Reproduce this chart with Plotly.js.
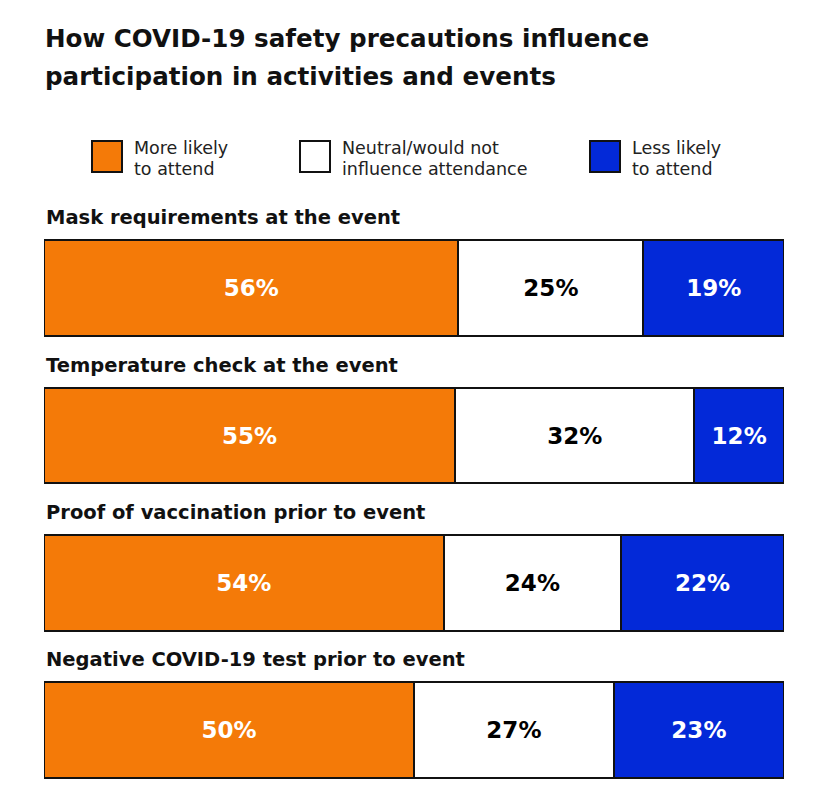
<!DOCTYPE html>
<html>
<head>
<meta charset="utf-8">
<script src="https://cdn.plot.ly/plotly-3.0.1.min.js"></script>
<style>html,body{margin:0;padding:0;background:#fff;}#chart{width:830px;height:810px;}</style>
</head>
<body>
<div id="chart"></div>
<script>
// ---- data ----
const categories = [
  "Mask requirements at the event",
  "Temperature check at the event",
  "Proof of vaccination prior to event",
  "Negative COVID-19 test prior to event"
];
const seriesNames = [["More likely", "to attend"], ["Neutral/would not", "influence attendance"], ["Less likely", "to attend"]];
const moreLikely = [56, 55, 54, 50];
const neutral = [25, 32, 24, 27];
const lessLikely = [19, 12, 22, 23];
const titleLines = ["How COVID-19 safety precautions influence", "participation in activities and events"];

// ---- styling ----
const colors = ["#F47A08", "#FFFFFF", "#0329D8"];
const textColors = ["#FFFFFF", "#000000", "#FFFFFF"];
const FONT = "DejaVu Sans, sans-serif";
const W = 830, Hh = 810;
const mL = 44, mR = 46, mT = 200, mB = 21;
const plotH = Hh - mT - mB, plotW = W - mL - mR;
const px = x => (x - mL) / plotW;
const py = y => (Hh - mB - y) / plotH;

const yIdx = categories.map((c, i) => i);
const seriesVals = [moreLikely, neutral, lessLikely];

const traces = seriesVals.map((vals, k) => ({
  type: "bar",
  orientation: "h",
  y: yIdx,
  x: vals,
  name: seriesNames[k].join(" "),
  width: 0.65,
  marker: {color: colors[k], line: {color: "#111", width: 2}},
  text: vals.map(v => v + "%"),
  textposition: "inside",
  insidetextanchor: "middle",
  textfont: {family: FONT, size: 23, color: textColors[k], weight: "bold"},
  hoverinfo: "skip",
  showlegend: false
}));

const annotations = [];
titleLines.forEach((t, i) => annotations.push({
  text: "<b>" + t + "</b>", xref: "paper", yref: "paper",
  x: px(43), y: py(38 + i * 39), xanchor: "left", yanchor: "middle",
  showarrow: false, font: {family: FONT, size: 24.6, color: "#111"}
}));
categories.forEach((c, i) => annotations.push({
  text: "<b>" + c + "</b>", xref: "paper", yref: "y",
  x: 0, y: i - 0.478, xanchor: "left", yanchor: "middle",
  showarrow: false, font: {family: FONT, size: 19.5, color: "#111"}
}));

const legendX = [92, 300, 590];
const shapes = [];
seriesNames.forEach((n, k) => {
  shapes.push({type: "rect", xref: "paper", yref: "paper",
    x0: px(legendX[k]), x1: px(legendX[k] + 30), y0: py(172), y1: py(141),
    fillcolor: colors[k], line: {color: "#111", width: 2}});
  n.forEach((line, j) => annotations.push({text: line, xref: "paper", yref: "paper",
    x: px(legendX[k] + 40), y: py(148 + j * 21), xanchor: "left", yanchor: "middle", align: "left",
    showarrow: false, font: {family: FONT, size: 17.5, color: "#222"}}));
});

const layout = {
  width: W, height: Hh,
  margin: {l: mL, r: mR, t: mT, b: mB},
  paper_bgcolor: "#fff", plot_bgcolor: "#fff",
  barmode: "stack", barnorm: "percent",
  xaxis: {range: [0, 100], visible: false, fixedrange: true},
  yaxis: {range: [3.4, -0.6], visible: false, fixedrange: true},
  annotations: annotations,
  shapes: shapes,
  showlegend: false
};

Plotly.newPlot("chart", traces, layout, {displayModeBar: false, staticPlot: true});
</script>
</body>
</html>
